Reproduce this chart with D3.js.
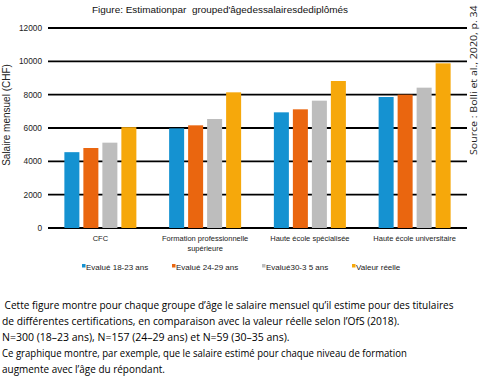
<!DOCTYPE html>
<html><head><meta charset="utf-8">
<script src="https://cdn.jsdelivr.net/npm/d3@7"></script>
<style>body{margin:0;background:#fff}svg{display:block}</style>
</head><body>
<script>
const categories = ["CFC", "Formation professionnelle\nsupérieure", "Haute école spécialisée", "Haute école universitaire"];
const seriesNames = ["Evalué 18-23 ans", "Evalué 24-29 ans", "Evalué30-3 5 ans", "Valeur réelle"];
const eval1823 = [4550, 5980, 6940, 7860];
const eval2429 = [4800, 6160, 7120, 8000];
const eval3035 = [5120, 6540, 7640, 8420];
const valeurReelle = [6050, 8140, 8820, 9880];
const yTicks = [0, 2000, 4000, 6000, 8000, 10000, 12000];
const colors = ["#1592d1", "#ea660f", "#bdbdbd", "#f6a80b"];
const noteLines = [
  " Cette figure montre pour chaque groupe d’âge le salaire mensuel qu’il estime pour des titulaires",
  "de différentes certifications, en comparaison avec la valeur réelle selon l’OfS (2018).",
  "N=300 (18–23 ans), N=157 (24–29 ans) et N=59 (30–35 ans).",
  "Ce graphique montre, par exemple, que le salaire estimé pour chaque niveau de formation",
  "augmente avec l’âge du répondant."
];
const noteWidths = [452, 398, 288, 405, 163];

const series = [eval1823, eval2429, eval3035, valeurReelle];
const W = 480, H = 376;
const svg = d3.select("body").append("svg").attr("width", W).attr("height", H);
const font = "'Liberation Sans', Arial, sans-serif";
const noteFont = "'Open Sans', 'Noto Sans', sans-serif";

const x0 = d3.scaleBand().domain(d3.range(categories.length)).range([48, 467]).padding(0);
const x1 = d3.scaleBand().domain(d3.range(series.length)).range([0, 72]).paddingInner(0.21).paddingOuter(0);
const y = d3.scaleLinear().domain([0, 12000]).range([228, 28]);

// gridlines
svg.append("g").selectAll("line").data(yTicks).join("line")
  .attr("x1", 48).attr("x2", 467)
  .attr("y1", d => y(d)).attr("y2", d => y(d))
  .attr("stroke", "#000").attr("stroke-width", 1.8);

// y tick labels
svg.append("g").selectAll("text").data(yTicks).join("text")
  .attr("x", 42).attr("y", d => y(d) + 3)
  .attr("text-anchor", "end").attr("font-family", font).attr("font-size", 8.3)
  .attr("fill", "#222").text(d => d);

// bars
const groups = svg.append("g").selectAll("g").data(categories).join("g")
  .attr("transform", (d, i) => `translate(${x0(i) + x0.bandwidth() / 2 - 36},0)`);
groups.selectAll("rect").data((d, i) => series.map((s, j) => ({ j, v: s[i] }))).join("rect")
  .attr("x", d => x1(d.j)).attr("width", x1.bandwidth())
  .attr("y", d => y(d.v)).attr("height", d => y(0) - y(d.v))
  .attr("fill", d => colors[d.j]);

// category labels
svg.append("g").selectAll("text").data(categories).join("text")
  .attr("text-anchor", "middle").attr("font-family", font).attr("font-size", 7.5)
  .attr("fill", "#222")
  .attr("transform", (d, i) => `translate(${x0(i) + x0.bandwidth() / 2},241)`)
  .each(function (d) {
    const t = d3.select(this);
    d.split("\n").forEach((ln, k) => t.append("tspan").attr("x", 0).attr("dy", k ? 9.5 : 0).text(ln));
  });

// helper: horizontally fit a text into a width with a scale transform
function fit(sel, baseTransform, target) {
  const w = sel.node().getComputedTextLength();
  sel.attr("transform", `${baseTransform} scale(${target / w},1)`);
}

// title
const title = svg.append("text").attr("font-family", font).attr("font-size", 9.5)
  .attr("fill", "#111").text("Figure: Estimationpar  grouped'âgedessalairesdediplômés")
  .attr("xml:space", "preserve").style("white-space", "pre");
fit(title, "translate(92,13)", 256);

// y axis title
svg.append("text").attr("transform", "translate(10,115) rotate(-90)")
  .attr("text-anchor", "middle").attr("font-family", font).attr("font-size", 10)
  .attr("fill", "#222").text("Salaire mensuel (CHF)");

// source
const src = svg.append("text").attr("font-family", noteFont).attr("font-size", 9)
  .attr("fill", "#222").text("Source : Bolli et al., 2020, p. 34");
fit(src, "translate(477,155) rotate(-90)", 150);

// legend
const legX = [82, 172, 262, 352];
const lg = svg.append("g").selectAll("g").data(seriesNames).join("g")
  .attr("transform", (d, i) => `translate(${legX[i]},267)`);
lg.append("rect").attr("x", 0).attr("y", -3).attr("width", 3.5).attr("height", 3.5)
  .attr("fill", (d, i) => colors[i]);
lg.append("text").attr("x", 4).attr("y", 2.5).attr("font-family", font).attr("font-size", 8)
  .attr("fill", "#222").text(d => d);

// note
svg.append("g").selectAll("text").data(noteLines).join("text")
  .attr("font-family", noteFont).attr("font-size", 11.5).attr("font-weight", 500)
  .attr("fill", "#000")
  .style("white-space", "pre")
  .text(d => d)
  .each(function (d, i) {
    fit(d3.select(this), `translate(2,${309 + i * 16})`, noteWidths[i]);
  });
</script>
</body></html>
